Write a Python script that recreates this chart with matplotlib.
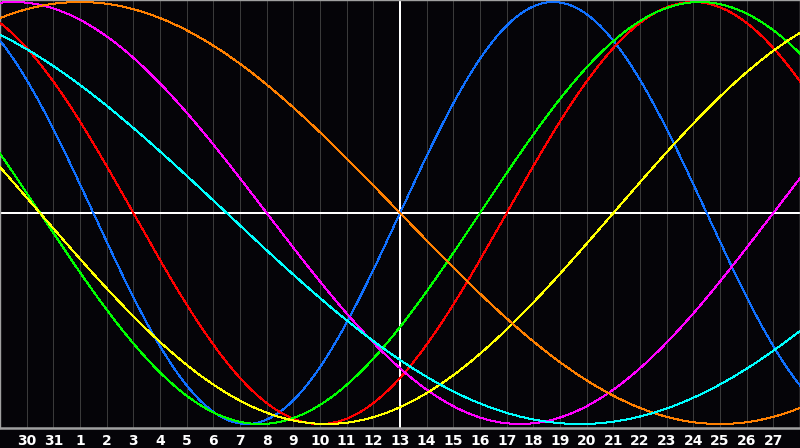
"""Biorhythm chart: seven sine cycles over a 30-day window centred on today."""
import matplotlib

matplotlib.use("Agg")
import matplotlib.pyplot as plt
import numpy as np

# day labels shown under each grid line, today = 13
day_labels = [30, 31] + list(range(1, 28))
today_label = 13

# cycle lengths (days) and the position within each cycle on "today"
cycle_periods = [23, 28, 33, 38, 43, 48, 53]
cycle_phase_today = [0, 24, 30, 24, 35, 24, 33]
cycle_colors = ["#1070ff", "#ff0000", "#00ff00", "#ff00ff", "#ffff00", "#ff8000", "#00ffff"]

BG = "#050408"
GRID = "#3a3a3a"
BORDER = "#a0a0a0"

fig = plt.figure(figsize=(8, 4.48), dpi=100, facecolor=BG)
ax = fig.add_axes([0, 20 / 448, 1, 428 / 448])
ax.set_facecolor(BG)

offsets = np.arange(len(day_labels)) - day_labels.index(today_label)
ax.set_xlim(offsets[0] - 1, offsets[-1] + 1)
ax.set_ylim(-1.019, 1.0095)

for x in offsets:
    ax.axvline(x, color=GRID, lw=0.72, antialiased=False, zorder=1)

t = np.linspace(offsets[0] - 1, offsets[-1] + 1, 2000)
for period, phase, color in zip(cycle_periods, cycle_phase_today, cycle_colors):
    ax.plot(t, np.sin(2 * np.pi * (phase + t) / period), color=color, lw=0.72,
            antialiased=False, zorder=3)

ax.axhline(0, color="white", lw=1.2, antialiased=False, zorder=2)
ax.axvline(0, color="white", lw=1.2, antialiased=False, zorder=2)

ax.set_xticks(offsets)
ax.set_xticklabels([str(d) for d in day_labels])
ax.tick_params(axis="x", length=0, pad=4, colors="white", labelsize=10)
for lbl in ax.get_xticklabels():
    lbl.set_fontweight("bold")
ax.set_yticks([])

for side in ("left", "top", "right"):
    ax.spines[side].set_color(BORDER)
    ax.spines[side].set_linewidth(1.0)
ax.spines["bottom"].set_color(BORDER)
ax.spines["bottom"].set_linewidth(1.8)

fig.savefig("out.png", dpi=100, facecolor=BG)
